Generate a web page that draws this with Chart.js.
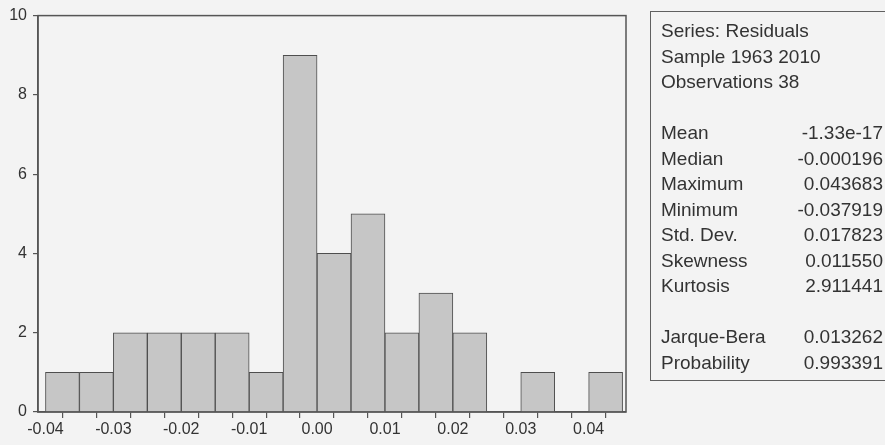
<!DOCTYPE html>
<html>
<head>
<meta charset="utf-8">
<script src="https://cdn.jsdelivr.net/npm/chart.js@4/dist/chart.umd.min.js"></script>
<style>
  html, body { margin: 0; padding: 0; background: #f3f3f3; }
  #wrap { position: relative; width: 885px; height: 445px; overflow: hidden; }
  #hist { position: absolute; left: 0; top: 0; }
  #stats {
    position: absolute; left: 650px; top: 11px; width: 260px; height: 370px;
    border: 1.5px solid #606060; box-sizing: border-box;
    font-family: "Liberation Sans", Arial, sans-serif; font-size: 19px; line-height: 25.5px;
    color: #333333; padding: 6px 0 0 10px;
  }
  #stats .row { display: flex; width: 222px; justify-content: space-between; white-space: nowrap; }
  #stats .gap { height: 25.5px; }
</style>
</head>
<body>
<div id="wrap">
  <canvas id="hist" width="885" height="445"></canvas>
  <div id="stats"></div>
</div>
<script>
// histogram bins (width 0.005), centres and counts
const binCenters = [-0.0375, -0.0325, -0.0275, -0.0225, -0.0175, -0.0125, -0.0075, -0.0025,
  0.0025, 0.0075, 0.0125, 0.0175, 0.0225, 0.0275, 0.0325, 0.0375, 0.0425];
const counts = [1, 1, 2, 2, 2, 2, 1, 9, 4, 5, 2, 3, 2, 0, 1, 0, 1];

const headerLines = ['Series: Residuals', 'Sample 1963 2010', 'Observations 38'];
const statNames = ['Mean', 'Median', 'Maximum', 'Minimum', 'Std. Dev.', 'Skewness', 'Kurtosis'];
const statValues = ['-1.33e-17', '-0.000196', '0.043683', '-0.037919', '0.017823', '0.011550', '2.911441'];
const testNames = ['Jarque-Bera', 'Probability'];
const testValues = ['0.013262', '0.993391'];

const lineCol = '#555555';
const textCol = '#333333';

buildStats();

const frame = {
  id: 'frame',
  afterDatasetsDraw(chart) {
    const a = chart.chartArea;
    const c = chart.ctx;
    c.save();
    c.strokeStyle = lineCol;
    c.lineWidth = 1.5;
    c.strokeRect(a.left, a.top, a.right - a.left, a.bottom - a.top);
    c.restore();
  }
};

new Chart(document.getElementById('hist'), {
  type: 'bar',
  data: {
    datasets: [{
      data: binCenters.map((x, i) => ({ x: x, y: counts[i] })),
      backgroundColor: '#c6c6c6',
      borderColor: '#4e4e4e',
      borderWidth: 1,
      barPercentage: 1,
      categoryPercentage: 1,
      grouped: false
    }]
  },
  options: {
    responsive: false,
    animation: false,
    layout: { padding: { top: 12, right: 259, left: 0, bottom: 0 } },
    plugins: { legend: { display: false }, tooltip: { enabled: false } },
    scales: {
      x: {
        type: 'linear',
        offset: false,
        min: -0.0411,
        max: 0.0455,
        afterFit: (s) => { s.height = 33; },
        ticks: {
          stepSize: 0.005,
          includeBounds: false,
          autoSkip: false,
          maxRotation: 0,
          padding: 2,
          color: textCol,
          font: { family: 'Liberation Sans', size: 16 },
          callback: (v) => Math.abs(v * 100 - Math.round(v * 100)) < 1e-6 ? v.toFixed(2) : ''
        },
        grid: { drawOnChartArea: false, tickLength: 6, color: lineCol, lineWidth: 1.2 },
        border: { color: lineCol, width: 1.5 }
      },
      y: {
        min: 0,
        max: 10,
        afterFit: (s) => { s.width = 38; },
        ticks: {
          stepSize: 2,
          padding: 6,
          color: textCol,
          font: { family: 'Liberation Sans', size: 16 }
        },
        grid: { drawOnChartArea: false, tickLength: 5, color: lineCol, lineWidth: 1.2 },
        border: { color: lineCol, width: 1.5 }
      }
    }
  },
  plugins: [frame]
});

function buildStats() {
  const box = document.getElementById('stats');
  let html = headerLines.map(t => `<div class="row"><span>${t}</span></div>`).join('');
  html += '<div class="gap"></div>';
  html += statNames.map((n, i) => `<div class="row"><span>${n}</span><span>${statValues[i]}</span></div>`).join('');
  html += '<div class="gap"></div>';
  html += testNames.map((n, i) => `<div class="row"><span>${n}</span><span>${testValues[i]}</span></div>`).join('');
  box.innerHTML = html;
}
</script>
</body>
</html>
